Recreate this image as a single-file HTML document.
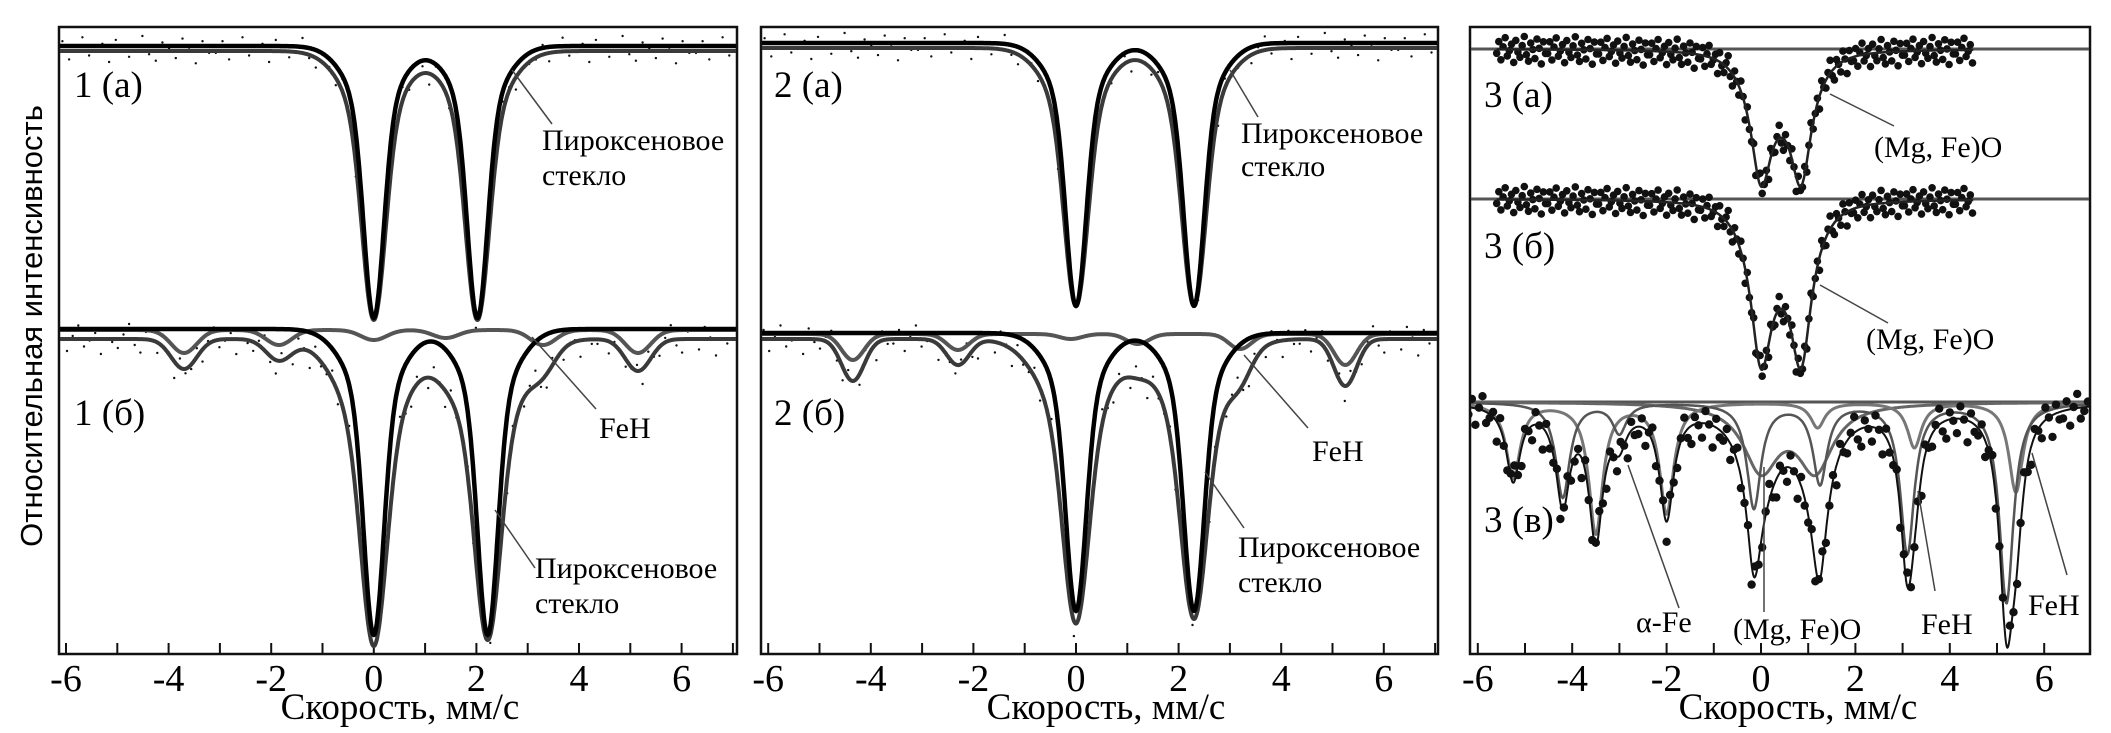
<!DOCTYPE html>
<html><head><meta charset="utf-8"><style>
html,body{margin:0;padding:0;background:#fff;}
svg{display:block;font-family:"Liberation Serif",serif;}
</style></head><body>
<svg id="fig" width="2111" height="733" viewBox="0 0 2111 733" xmlns="http://www.w3.org/2000/svg">
<defs>
<clipPath id="c1"><rect x="60" y="28" width="676" height="625"/></clipPath>
<clipPath id="c2"><rect x="762" y="28" width="675" height="625"/></clipPath>
<clipPath id="c3"><rect x="1471" y="28" width="618" height="625"/></clipPath>
</defs>
<text x="42" y="326" transform="rotate(-90 42 326)" text-anchor="middle" font-family="Liberation Sans, sans-serif" font-size="31">Относительная интенсивность</text>
<g id="g1"></g>
<g id="g2"></g>
<g id="g3"></g>
</svg>
<script>
const NS='http://www.w3.org/2000/svg';
// ---- data ----
const xTicks=[-6,-4,-2,0,2,4,6];
const p1aCenters=[0,2.02];
const p1aFitDepth=[272,272];
const p1aOuterDepth=[269,269];
const p1bCenters=[0,2.22];
const p1bFitDepth=[306,306];
const p1bOuterDepth=[301,301];
const p1FeHCenters=[-3.7,-1.85,0,1.4,3.3,5.15];
const p1FeHDepth=[23,15,10,8,15,23];
const p1FeHOuterDepth=[30,21,6,6,20,32];
const p2aCenters=[0,2.3];
const p2aFitDepth=[263,263];
const p2aOuterDepth=[258,258];
const p2bCenters=[0,2.3];
const p2bFitDepth=[278,278];
const p2bOuterDepth=[280,280];
const p2FeHCenters=[-4.35,-2.3,-0.1,1.2,3.2,5.25];
const p2FeHDepth=[26,16,5,10,15,31];
const p2FeHOuterDepth=[42,26,5,10,20,47];
const p3Centers=[0,0.85];
const p3aDepth=[105,105];
const p3bDepth=[130,130];
const p3MgCenters=[0,1.15];
const p3MgDepth=[65,65];
const p3S1Centers=[-5.25,-3.5,-2.0,1.2,3.25,5.4];
const p3S1Depth=[75,130,110,25,45,90];
const p3S2Centers=[-4.2,-3.0,-0.15,1.25,3.1,5.2];
const p3S2Depth=[95,30,105,80,150,200];
const jitter=[3,-6,8,-2,-9,5,1,-4,10,-7,2,6,-3,-10,4,9,-5,0,7,-8,-1,11,-6,3];

const panels={
 1:{x0:373.8,k:51.3,left:59,right:737,clip:'c1'},
 2:{x0:1076,k:51.3,left:761,right:1438,clip:'c2'},
 3:{x0:1761,k:47.2,left:1470,right:2090,clip:'c3'}
};
function el(tag,attrs,parent){const e=document.createElementNS(NS,tag);for(const a in attrs)e.setAttribute(a,attrs[a]);parent.appendChild(e);return e;}
function gauss(v,cs,ds,s){let t=0;for(let i=0;i<cs.length;i++)t+=ds[i]*Math.exp(-((v-cs[i])**2)/(2*s*s));return t;}
function lor(v,cs,ds,g){let t=0;for(let i=0;i<cs.length;i++)t+=ds[i]/(1+((v-cs[i])/g)**2);return t;}
// broad shoulder + narrow core line profile
function dip(v,cs,ds,fb,sb,sn){let t=0;for(let i=0;i<cs.length;i++){const x=v-cs[i];t+=ds[i]*(fb*Math.exp(-x*x/(2*sb*sb))+(1-fb)*Math.exp(-x*x/(2*sn*sn)));}return t;}
function curve(p,parent,fn,base,stroke,w,name,v0,v1){
 const P=panels[p];let d='';v0=v0??-6.3;v1=v1??7.2;
 for(let v=v0;v<=v1+1e-9;v+=0.015){const X=P.x0+v*P.k,Y=base+fn(v);d+=(d?'L':'M')+X.toFixed(1)+' '+Y.toFixed(1);}
 const e=el('path',{d:d,fill:'none',stroke:stroke,'stroke-width':w,'stroke-linejoin':'round','clip-path':'url(#'+P.clip+')'},parent);
 
 
 return e;
}
function dots(p,parent,fn,base,v0,v1,step,r,amp,name){
 const P=panels[p];const g=el('g',{'clip-path':'url(#'+P.clip+')'},parent);
 
 
 let i=0;for(let v=v0;v<=v1;v+=step){const X=P.x0+v*P.k,Y=base+fn(v)+jitter[i%jitter.length]*amp;el('circle',{cx:X.toFixed(1),cy:Y.toFixed(1),r:r,fill:'#111'},g);i++;}
}
function text(parent,x,y,s,size,name,anchor){const t=el('text',{x:x,y:y,'font-size':size,'text-anchor':anchor||'start'},parent);t.textContent=s;return t;}
function line(parent,x1,y1,x2,y2,name){const l=el('line',{x1:x1,y1:y1,x2:x2,y2:y2,stroke:'#444','stroke-width':1.5},parent);}
function frame(p,parent,titleX){
 const P=panels[p];
 const r=el('rect',{x:P.left,y:27,width:P.right-P.left,height:627,fill:'none',stroke:'#111','stroke-width':2.5},parent);
 
 
 for(let v=-6;v<=7;v++){const X=P.x0+v*P.k;if(X>P.right-2)continue;el('line',{x1:X,y1:654,x2:X,y2:643,stroke:'#111','stroke-width':2},parent);}
 xTicks.forEach(v=>{const X=P.x0+v*P.k;text(parent,X,691,String(v),38,'x-tick-label','middle');});
 text(parent,titleX,719,'Скорость, мм/с',37,'x-axis-title','middle');
}
// ---- panel 1 ----
const g1=document.getElementById('g1');
frame(1,g1,400);
const f1aO=v=>dip(v,p1aCenters,p1aOuterDepth,0.27,0.52,0.22);
const f1aF=v=>dip(v,p1aCenters,p1aFitDepth,0.24,0.48,0.19);
const f1bO=v=>dip(v,p1bCenters,p1bOuterDepth,0.33,0.6,0.24)+gauss(v,p1FeHCenters,p1FeHOuterDepth,0.25);
const f1bF=v=>dip(v,p1bCenters,p1bFitDepth,0.24,0.5,0.19);
dots(1,g1,f1aO,49,-6.2,7,0.13,1.2,1.3,'data-points-1a');
curve(1,g1,f1aO,51,'#3a3a3a',4,'envelope-1a');
curve(1,g1,f1aF,46,'#000',4.5,'fit-1a');
dots(1,g1,f1bO,339,-6.2,7,0.11,1.2,1.5,'data-points-1b');
curve(1,g1,v=>gauss(v,p1FeHCenters,p1FeHDepth,0.25),330,'#555',4,'feh-1b');
curve(1,g1,f1bO,339,'#3a3a3a',4,'envelope-1b');
curve(1,g1,f1bF,329,'#000',4.5,'fit-1b');
text(g1,74,97,'1 (а)',37,'panel-label-1a');
text(g1,74,425,'1 (б)',37,'panel-label-1b');
line(g1,512,70,552,124,'leader-1a');
text(g1,542,150,'Пироксеновое',30,'label-pyroxene-1a');text(g1,542,185,'стекло',30,'label-glass-1a');
line(g1,532,337,596,409,'leader-feh-1b');
text(g1,599,438,'FeH',30,'label-feh-1b');
line(g1,495,510,535,568,'leader-1b');
text(g1,535,578,'Пироксеновое',30,'label-pyroxene-1b');text(g1,535,613,'стекло',30,'label-glass-1b');
// ---- panel 2 ----
const g2=document.getElementById('g2');
frame(2,g2,1106);
const f2aO=v=>dip(v,p2aCenters,p2aOuterDepth,0.27,0.52,0.22);
const f2aF=v=>dip(v,p2aCenters,p2aFitDepth,0.24,0.48,0.19);
const f2bO=v=>dip(v,p2bCenters,p2bOuterDepth,0.33,0.6,0.24)+gauss(v,p2FeHCenters,p2FeHOuterDepth,0.22);
const f2bF=v=>dip(v,p2bCenters,p2bFitDepth,0.24,0.48,0.19);
dots(2,g2,f2aO,46,-6.2,7,0.13,1.2,1.3,'data-points-2a');
curve(2,g2,f2aO,48,'#3a3a3a',4,'envelope-2a');
curve(2,g2,f2aF,43,'#000',4.5,'fit-2a');
dots(2,g2,f2bO,339,-6.2,7,0.11,1.2,1.5,'data-points-2b');
curve(2,g2,v=>gauss(v,p2FeHCenters,p2FeHDepth,0.22),334,'#555',4,'feh-2b');
curve(2,g2,f2bO,339,'#3a3a3a',4,'envelope-2b');
curve(2,g2,f2bF,333,'#000',4.5,'fit-2b');
text(g2,774,97,'2 (а)',37,'panel-label-2a');
text(g2,774,425,'2 (б)',37,'panel-label-2b');
line(g2,1230,70,1258,117,'leader-2a');
text(g2,1241,143,'Пироксеновое',30,'label-pyroxene-2a');text(g2,1241,176,'стекло',30,'label-glass-2a');
line(g2,1244,355,1308,428,'leader-feh-2b');
text(g2,1312,461,'FeH',30,'label-feh-2b');
line(g2,1205,472,1244,528,'leader-2b');
text(g2,1238,557,'Пироксеновое',30,'label-pyroxene-2b');text(g2,1238,592,'стекло',30,'label-glass-2b');
// ---- panel 3 ----
const g3=document.getElementById('g3');
frame(3,g3,1798);
const fa=v=>lor(v,p3Centers,p3aDepth,0.26)+dip(v,[0.42],[p3aDepth[0]*0.3],1,0.55,0.3);
const fb=v=>lor(v,p3Centers,p3bDepth,0.26)+dip(v,[0.42],[p3bDepth[0]*0.3],1,0.55,0.3);
const fMg=v=>lor(v,p3MgCenters,p3MgDepth,0.45);
const fS1=v=>lor(v,p3S1Centers,p3S1Depth,0.18);
const fS2=v=>lor(v,p3S2Centers,p3S2Depth,0.18);
const fTot=v=>fMg(v)+fS1(v)+fS2(v);
curve(3,g3,v=>0,49,'#555',3,'baseline-3a');
curve(3,g3,v=>0,199,'#555',3,'baseline-3b');
dots(3,g3,fa,49,-5.6,4.5,0.045,3.8,1.3,'data-points-3a');
curve(3,g3,fa,49,'#222',2.5,'fit-3a',-5.6,4.5);
dots(3,g3,fb,199,-5.6,4.5,0.045,3.8,1.3,'data-points-3b');
curve(3,g3,fb,199,'#222',2.5,'fit-3b',-5.6,4.5);
curve(3,g3,v=>0,402,'#555',3,'baseline-3c');
curve(3,g3,fMg,402,'#666',3,'mgfeo-component-3c');
curve(3,g3,fS1,402,'#777',3,'feh-component-1-3c');
curve(3,g3,fS2,402,'#555',2.5,'feh-component-2-3c');
dots(3,g3,fTot,404,-6.2,7,0.075,4.2,1.8,'data-points-3c');
curve(3,g3,fTot,402,'#111',2,'fit-3c');
text(g3,1484,107,'3 (а)',37,'panel-label-3a');
text(g3,1484,258,'3 (б)',37,'panel-label-3b');
text(g3,1484,532,'3 (в)',37,'panel-label-3c');
line(g3,1830,94,1894,126,'leader-3a');
text(g3,1874,157,'(Mg, Fe)O',30,'label-mgfeo-3a');
line(g3,1820,285,1888,323,'leader-3b');
text(g3,1866,349,'(Mg, Fe)O',30,'label-mgfeo-3b');
line(g3,1628,465,1679,608,'leader-afe');
text(g3,1636,632,'α-Fe',30,'label-alpha-fe');
line(g3,1764,467,1764,612,'leader-mgfeo-3c');
text(g3,1733,639,'(Mg, Fe)O',30,'label-mgfeo-3c');
line(g3,1918,491,1935,591,'leader-feh-3c-1');
text(g3,1921,634,'FeH',30,'label-feh-3c-1');
line(g3,2032,453,2067,575,'leader-feh-3c-2');
text(g3,2028,615,'FeH',30,'label-feh-3c-2');
</script>
</body></html>
